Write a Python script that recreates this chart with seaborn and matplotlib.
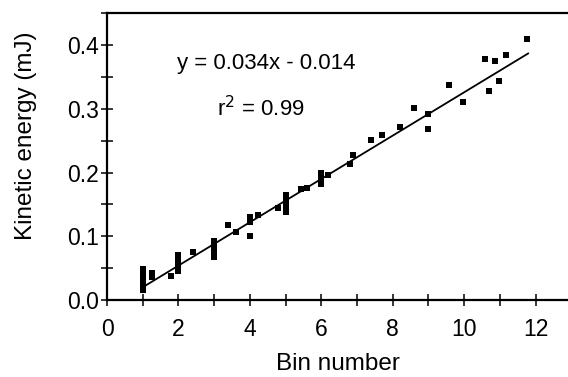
import numpy as np
import pandas as pd
import seaborn as sns
import matplotlib.pyplot as plt
from matplotlib.ticker import MultipleLocator

# Data
bin_number = [1, 1, 1, 1, 1, 1.25, 1.25, 1.8, 2, 2, 2, 2, 2.4,
              3, 3, 3, 3, 3.4, 3.6, 4, 4, 4, 4.22, 4.8,
              5, 5, 5, 5, 5.43, 5.6, 6, 6, 6, 6.2, 6.8, 6.88,
              7.39, 7.69, 8.21, 8.6, 9, 9, 9.58, 9.98,
              10.58, 10.69, 10.87, 10.98, 11.18, 11.77]
kinetic_energy = [0.048, 0.040, 0.030, 0.022, 0.016, 0.043, 0.036, 0.037,
                  0.070, 0.062, 0.053, 0.045, 0.075,
                  0.093, 0.085, 0.076, 0.068, 0.117, 0.106,
                  0.130, 0.123, 0.100, 0.133, 0.145,
                  0.165, 0.157, 0.147, 0.138, 0.175, 0.176,
                  0.200, 0.190, 0.182, 0.196, 0.213, 0.227,
                  0.251, 0.259, 0.272, 0.302, 0.292, 0.268, 0.338, 0.311,
                  0.379, 0.328, 0.375, 0.344, 0.385, 0.409]

# Fit line as printed on the figure
slope = 0.034
intercept = -0.014
fit_range = [1.0, 11.8]

df = pd.DataFrame({'bin': bin_number, 'energy': kinetic_energy})
fit_x = np.array(fit_range)
fit_df = pd.DataFrame({'bin': fit_x, 'energy': slope * fit_x + intercept})

sns.set_theme(style="ticks")
plt.rcParams['font.family'] = ['Liberation Sans', 'DejaVu Sans']
# plain black text like the original figure
plt.rcParams['text.color'] = 'black'
plt.rcParams['axes.labelcolor'] = 'black'
plt.rcParams['xtick.labelcolor'] = 'black'
plt.rcParams['ytick.labelcolor'] = 'black'

fig = plt.figure(figsize=(5.68, 3.77), dpi=100)
ax = fig.add_axes([107 / 568, 1 - 300 / 377, 1 - 107 / 568, (300 - 12.7) / 377])

sns.scatterplot(data=df, x='bin', y='energy', marker='s', color='black',
                s=18, linewidth=0, ax=ax, zorder=3)
sns.lineplot(data=fit_df, x='bin', y='energy', color='black', linewidth=1.3,
             ax=ax, zorder=2)

ax.set_xlim(0, 12.91)
ax.set_ylim(0, 0.451)
ax.xaxis.set_major_locator(MultipleLocator(2))
ax.xaxis.set_minor_locator(MultipleLocator(1))
ax.yaxis.set_major_locator(MultipleLocator(0.1))
ax.yaxis.set_minor_locator(MultipleLocator(0.05))
ax.yaxis.set_major_formatter(plt.FuncFormatter(lambda v, p: f'{v:.1f}'))

ax.tick_params(which='both', direction='inout', length=8, width=1.1,
               color='black', labelsize=16.5, labelcolor='black')
ax.tick_params(axis='y', pad=2)
ax.tick_params(axis='x', pad=9)
for side in ['left', 'bottom', 'top']:
    ax.spines[side].set_linewidth(1.6)
    ax.spines[side].set_color('black')
ax.spines['right'].set_visible(False)

ax.set_xlabel('Bin number', fontsize=17.5, color='black')
ax.set_ylabel('Kinetic energy (mJ)', fontsize=17.5, color='black')
ax.xaxis.set_label_coords(0.502, -0.183)
ax.yaxis.set_label_coords(-0.152, 0.571)

ax.text(4.45, 0.372, 'y = 0.034x - 0.014', fontsize=16, ha='center', va='center',
        color='black')
ax.text(4.3, 0.301, 'r$^2$ = 0.99', fontsize=16, ha='center', va='center',
        color='black')

fig.savefig('out.png', dpi=100)
